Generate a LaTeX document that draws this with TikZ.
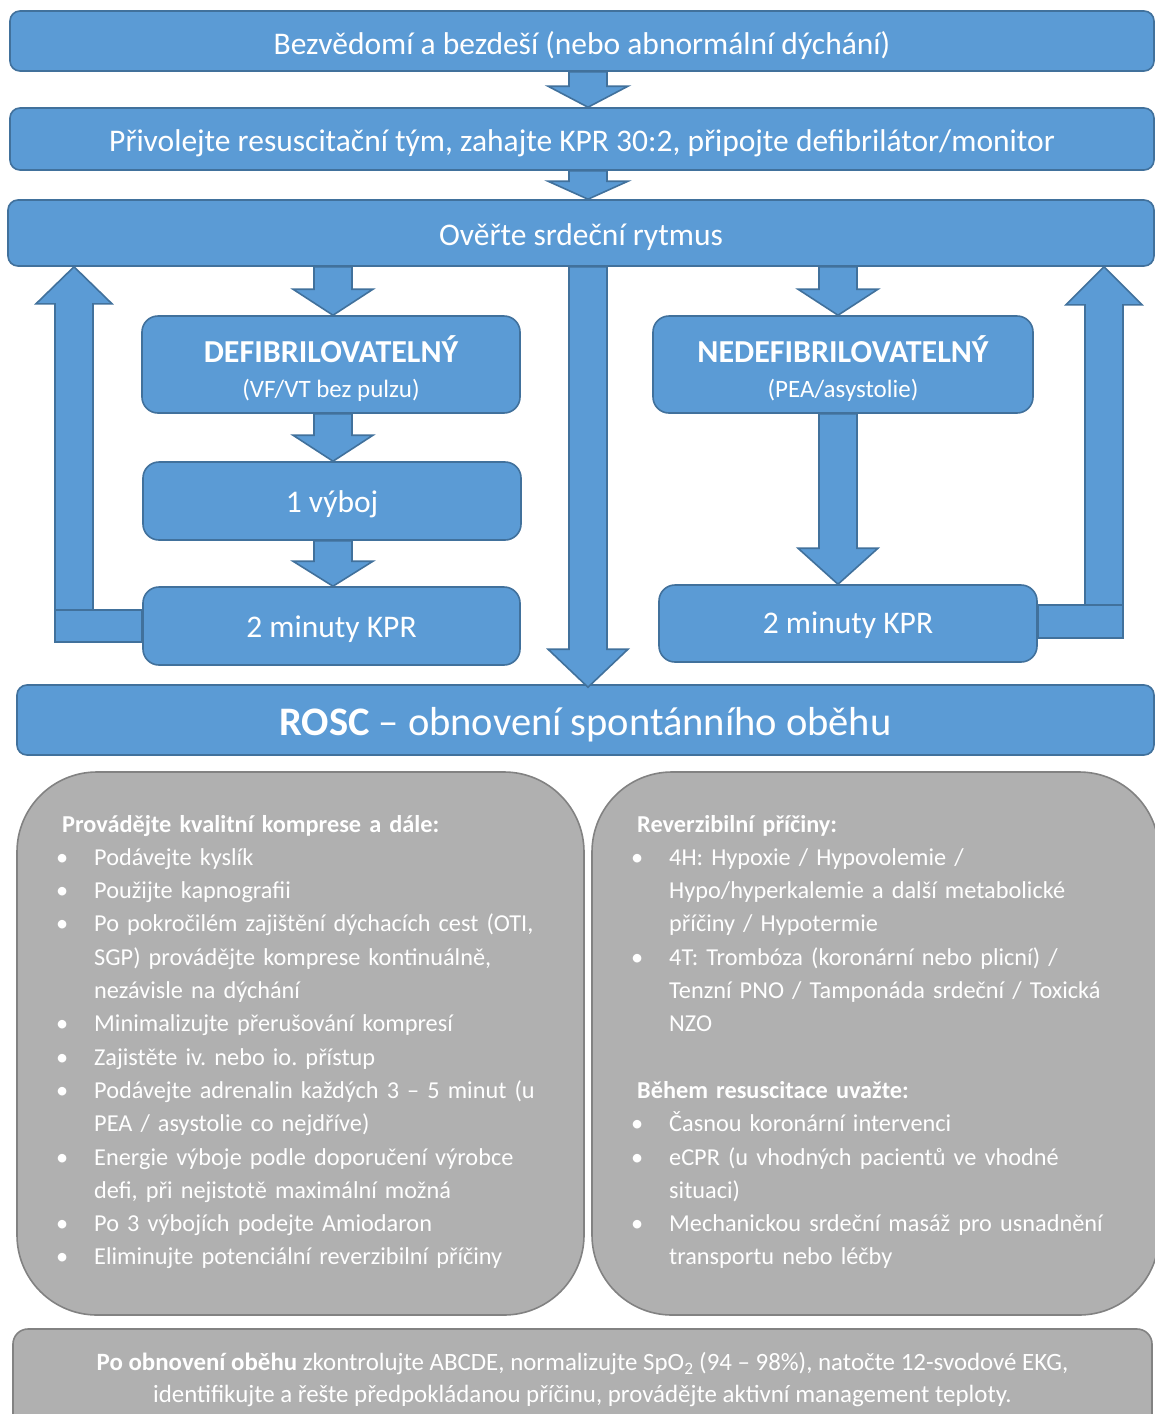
\documentclass[tikz,border=0pt]{standalone}
\usepackage{fontspec}
\setmainfont{Carlito}
\usetikzlibrary{calc}
\frenchspacing

\definecolor{boxblue}{RGB}{91,155,213}
\definecolor{boxedge}{RGB}{65,113,156}
\definecolor{panelfill}{RGB}{176,176,176}
\definecolor{paneledge}{RGB}{130,130,130}

\newcommand{\fs}[2]{\fontsize{#1}{#2}\selectfont}
% bullet item and continuation line inside the grey panels
\newcommand{\itm}{\makebox[38pt][l]{•}}
\newcommand{\cont}{\hspace*{38pt}}

% block arrow pointing down: #1 start (top), #2 tip, #3 head length
\newcommand{\blockdown}[3]{%
  \path[blockarrow] let \p1=(#1), \p2=(#2) in
    (\x1-19pt,\y1) -- (\x1+19pt,\y1) -- (\x1+19pt,\y2+#3pt) -- (\x1+40pt,\y2+#3pt)
    -- (\x2,\y2) -- (\x1-40pt,\y2+#3pt) -- (\x1-19pt,\y2+#3pt) -- cycle;}
% block arrow pointing up: #1 start (bottom), #2 tip, #3 head length
\newcommand{\blockup}[3]{%
  \path[blockarrow] let \p1=(#1), \p2=(#2) in
    (\x1-19pt,\y1) -- (\x1-19pt,\y2-#3pt) -- (\x1-38pt,\y2-#3pt) -- (\x2,\y2)
    -- (\x1+38pt,\y2-#3pt) -- (\x1+19pt,\y2-#3pt) -- (\x1+19pt,\y1) -- cycle;}

\tikzset{
  bluebox/.style={draw=boxedge, fill=boxblue, line width=1.6pt, rounded corners=10pt,
    text=white, inner sep=0pt, align=center},
  bartext/.style={font=\fs{31.5}{38}, text height=23pt, text depth=0pt},
  stepbox/.style={bluebox, rounded corners=16pt},
  steplabel/.style={font=\fs{31.5}{38}, text height=22pt, text depth=0pt},
  typebox/.style={stepbox, font=\fs{25}{35}},
  blockarrow/.style={draw=boxedge, fill=boxblue, line width=1.6pt, line join=miter},
  panel/.style={draw=paneledge, fill=panelfill, line width=1.6pt, rounded corners=80pt},
  paneltext/.style={text=white, inner sep=0pt, anchor=north west, align=left,
    text width=540pt, font=\fs{24.3}{33.3}},
}

\begin{document}
\begin{tikzpicture}[x=1pt,y=-1pt]
\useasboundingbox (0,0) rectangle (1155,1414);
\fill[white] (0,0) rectangle (1155,1414);

% arrow axes
\coordinate (ax) at (588,0);
\coordinate (dx) at (333,0);
\coordinate (nx) at (838,0);
\coordinate (lx) at (74,0);
\coordinate (rx) at (1104,0);

% main flow bars
\node[bluebox, bartext, text height=26pt, minimum width=1144pt, minimum height=60pt] (b1) at (582,41)
  {Bezvědomí a bezdeší (nebo abnormální dýchání)};
\node[bluebox, bartext, text height=24pt, minimum width=1144pt, minimum height=62pt] (b2) at (582,139)
  {Přivolejte resuscitační tým, zahajte KPR 30:2, připojte defibrilátor/monitor};
\node[bluebox, bartext, text height=24pt, minimum width=1146pt, minimum height=66pt] (b3) at (581,233)
  {Ověřte srdeční rytmus};

% shockable branch
\node[typebox, minimum width=378pt, minimum height=97pt] (def) at (331,364.5)
  {\rule{0pt}{36pt}{\fs{32}{35}\bfseries DEFIBRILOVATELNÝ}\\(VF/VT bez pulzu)};
\node[stepbox, steplabel, minimum width=378pt, minimum height=78pt] (vyboj) at (332,501)
  {1 výboj};
\node[stepbox, steplabel, minimum width=377pt, minimum height=78pt] (kpr1) at (331.5,626)
  {2 minuty KPR};

% non-shockable branch
\node[typebox, minimum width=380pt, minimum height=97pt] (ndef) at (843,364.5)
  {\rule{0pt}{36pt}{\fs{32}{35}\bfseries NEDEFIBRILOVATELNÝ}\\(PEA/asystolie)};
\node[stepbox, steplabel, text height=19pt, minimum width=378pt, minimum height=77pt] (kpr2) at (848,623.5)
  {2 minuty KPR};

% ROSC bar
\node[bluebox, font=\fs{40.5}{48}, text height=31pt, text depth=0pt,
  minimum width=1137pt, minimum height=70pt] (rosc) at (585.5,720)
  {\textbf{ROSC} – obnovení spontánního oběhu};

% downward block arrows
\blockdown{b1.south -| ax}{b2.north -| ax}{21}
\blockdown{b2.south -| ax}{b3.north -| ax}{18}
\blockdown{b3.south -| dx}{def.north -| dx}{26}
\blockdown{def.south -| dx}{vyboj.north -| dx}{26}
\blockdown{vyboj.south -| dx}{kpr1.north -| dx}{25}
\blockdown{b3.south -| nx}{ndef.north -| nx}{26}
\blockdown{ndef.south -| nx}{kpr2.north -| nx}{36}
\blockdown{b3.south -| ax}{$(rosc.north -| ax)+(0,3)$}{38}

% return loop, left
\blockup{$(kpr1.center -| lx)+(0,16)$}{b3.south -| lx}{37}
\path[blockarrow] let \p1=(kpr1.west), \p2=(lx) in
  (\x2-19pt,\y1+16pt) rectangle (\x1,\y1-16pt);

% return loop, right
\blockup{$(kpr2.center -| rx)+(0,14.5)$}{b3.south -| rx}{38}
\path[blockarrow] let \p1=(kpr2.east), \p2=(rx) in
  (\x1,\y1+18.5pt) rectangle (\x2+19pt,\y1-14.5pt);

% grey panels
\node[panel, minimum width=567pt, minimum height=543pt] (pl) at (300.5,1043.5) {};
\node[panel, minimum width=567pt, minimum height=543pt] (pr) at (875.5,1043.5) {};

\node[paneltext] (plt) at (56,808.5) {\strut\hspace*{6pt}\textbf{Provádějte kvalitní komprese a dále:}\\
\itm Podávejte kyslík\\
\itm Použijte kapnografii\\
\itm Po pokročilém zajištění dýchacích cest (OTI,\\
\cont SGP) provádějte komprese kontinuálně,\\
\cont nezávisle na dýchání\\
\itm Minimalizujte přerušování kompresí\\
\itm Zajistěte iv. nebo io. přístup\\
\itm Podávejte adrenalin každých 3 – 5 minut (u\\
\cont PEA / asystolie co nejdříve)\\
\itm Energie výboje podle doporučení výrobce\\
\cont defi, při nejistotě maximální možná\\
\itm Po 3 výbojích podejte Amiodaron\\
\itm Eliminujte potenciální reverzibilní příčiny};

\node[paneltext] (prt) at (631,808.5) {\strut\hspace*{6pt}\textbf{Reverzibilní příčiny:}\\
\itm 4H: Hypoxie / Hypovolemie /\\
\cont Hypo/hyperkalemie a další metabolické\\
\cont příčiny / Hypotermie\\
\itm 4T: Trombóza (koronární nebo plicní) /\\
\cont Tenzní PNO / Tamponáda srdeční / Toxická\\
\cont NZO\\[33.3pt]
\hspace*{6pt}\textbf{Během resuscitace uvažte:}\\
\itm Časnou koronární intervenci\\
\itm eCPR (u vhodných pacientů ve vhodné\\
\cont situaci)\\
\itm Mechanickou srdeční masáž pro usnadnění\\
\cont transportu nebo léčby};

% post-ROSC bar
\node[panel, rounded corners=15pt, minimum width=1139pt, minimum height=102pt,
  text=white, align=center, font=\fs{24.9}{32}] (post) at (582.5,1380)
  {\textbf{Po obnovení oběhu} zkontrolujte ABCDE, normalizujte SpO\textsubscript{2} (94 – 98\%), natočte 12-svodové EKG,\\
   identifikujte a řešte předpokládanou příčinu, provádějte aktivní management teploty.};
\end{tikzpicture}
\end{document}
